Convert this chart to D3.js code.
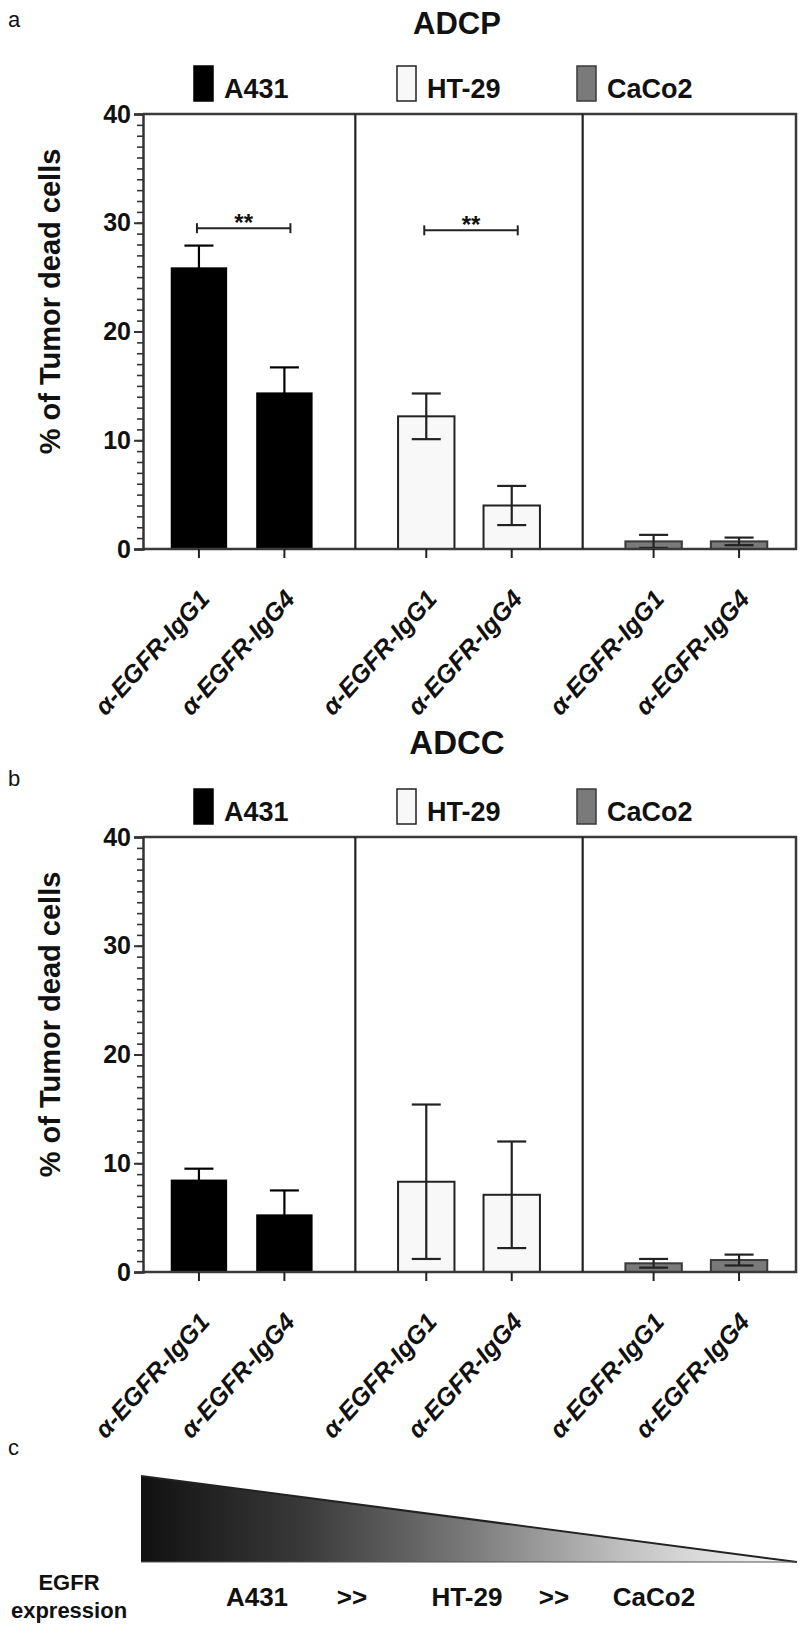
<!DOCTYPE html>
<html>
<head>
<meta charset="utf-8">
<script src="https://cdn.jsdelivr.net/npm/d3@7"></script>
<style>
  html, body { margin: 0; padding: 0; background: #fff; }
  svg { display: block; }
  text { font-family: "Liberation Sans", Arial, sans-serif; fill: #111; }
</style>
</head>
<body>
<svg id="chart" width="800" height="1628"></svg>
<script>
// ---------------- DATA ----------------
const cellLines = ["A431", "HT-29", "CaCo2"];
const antibodies = ["α-EGFR-IgG1", "α-EGFR-IgG4"];
// order: A431 IgG1, A431 IgG4, HT-29 IgG1, HT-29 IgG4, CaCo2 IgG1, CaCo2 IgG4
const adcpMean = [25.9, 14.4, 12.2, 4.0, 0.7, 0.7];
const adcpErr  = [2.0, 2.3, 2.1, 1.8, 0.6, 0.35];
const adccMean = [8.5, 5.3, 8.3, 7.1, 0.8, 1.1];
const adccErr  = [1.0, 2.2, 7.1, 4.9, 0.4, 0.5];
const yMajorTicks = [0, 10, 20, 30, 40];
const yMinorTicks = d3.range(0, 41, 1);
const adcpSignificance = [
  { line: "A431", level: 29.5, label: "**" },
  { line: "HT-29", level: 29.3, label: "**" }
];
const expressionLabels = ["A431", ">>", "HT-29", ">>", "CaCo2"];
const panelTitles = ["ADCP", "ADCC"];
const panelLetters = ["a", "b", "c"];
const yAxisTitle = "% of Tumor dead cells";
const expressionTitle = ["EGFR", "expression"];

// ---------------- STYLE / LAYOUT ----------------
const fills = { "A431": "#000", "HT-29": "#f8f8f8", "CaCo2": "#7a7a7a" };
const strokes = { "A431": "#000", "HT-29": "#222", "CaCo2": "#3a3a3a" };
const legendX = [194, 397, 577];
const expressionX = [257, 352, 467, 554, 654];

const svg = d3.select("#chart");

function rows(mean, err) {
  const out = [];
  cellLines.forEach((c, gi) => antibodies.forEach((a, ai) => {
    const i = gi * 2 + ai;
    out.push({ line: c, ab: a, mean: mean[i], err: err[i] });
  }));
  return out;
}

function drawPanel(opts) {
  const { top, bottom, data, title, titleY, titleSize, letter, letterY, legendTop, sig } = opts;
  const left = 143, right = 796;
  const g = svg.append("g");

  const y = d3.scaleLinear().domain([0, 40]).range([bottom, top]);
  const xG = d3.scaleBand().domain(cellLines).range([128, 810]).padding(0);
  const xI = d3.scaleBand().domain(antibodies).range([0, xG.bandwidth()])
    .paddingInner(0.34).paddingOuter(0.5);
  const cx = d => xG(d.line) + xI(d.ab) + xI.bandwidth() / 2;

  // title & letter
  g.append("text").attr("x", 457).attr("y", titleY).attr("text-anchor", "middle")
    .style("font-size", titleSize + "px").style("font-weight", "bold").text(title);
  g.append("text").attr("x", 8).attr("y", letterY)
    .style("font-size", "22px").text(letter);

  // legend
  const lg = g.append("g");
  cellLines.forEach((c, i) => {
    lg.append("rect").attr("x", legendX[i]).attr("y", legendTop)
      .attr("width", 19).attr("height", 35)
      .attr("fill", fills[c]).attr("stroke", strokes[c]).attr("stroke-width", 1.5);
    lg.append("text").attr("x", legendX[i] + 30).attr("y", legendTop + 32)
      .style("font-size", "27px").style("font-weight", "bold").text(c);
  });

  // bars
  g.selectAll("rect.bar").data(data).join("rect").attr("class", "bar")
    .attr("x", d => xG(d.line) + xI(d.ab))
    .attr("width", xI.bandwidth())
    .attr("y", d => y(d.mean))
    .attr("height", d => y(0) - y(d.mean))
    .attr("fill", d => fills[d.line])
    .attr("stroke", d => strokes[d.line])
    .attr("stroke-width", d => d.line === "A431" ? 0 : 2);

  // error bars
  const eb = g.selectAll("g.eb").data(data).join("g").attr("class", "eb")
    .attr("stroke", d => d.line === "A431" ? "#000" : "#222")
    .attr("stroke-width", 2.2);
  eb.append("line").attr("x1", cx).attr("x2", cx)
    .attr("y1", d => y(Math.max(0, d.mean - d.err))).attr("y2", d => y(d.mean + d.err));
  eb.append("line").attr("x1", d => cx(d) - 14.5).attr("x2", d => cx(d) + 14.5)
    .attr("y1", d => y(d.mean + d.err)).attr("y2", d => y(d.mean + d.err));
  eb.filter(d => d.line !== "A431").append("line")
    .attr("x1", d => cx(d) - 14.5).attr("x2", d => cx(d) + 14.5)
    .attr("y1", d => y(Math.max(0, d.mean - d.err))).attr("y2", d => y(Math.max(0, d.mean - d.err)));

  // frame & group dividers
  g.append("path")
    .attr("d", `M${left},${top}H${right}V${bottom}H${left}`)
    .attr("fill", "none").attr("stroke", "#3a3a3a").attr("stroke-width", 2.5);
  cellLines.slice(1).forEach(c => {
    g.append("line").attr("x1", xG(c)).attr("x2", xG(c))
      .attr("y1", top).attr("y2", bottom)
      .attr("stroke", "#222").attr("stroke-width", 2.2);
  });

  // y axis
  const minor = g.append("g").attr("transform", `translate(${left},0)`)
    .call(d3.axisLeft(y).tickValues(yMinorTicks).tickSize(6).tickFormat(""));
  minor.select(".domain").remove();
  minor.selectAll("line").attr("stroke", "#333").attr("stroke-width", 1.6);
  const major = g.append("g").attr("transform", `translate(${left},0)`)
    .call(d3.axisLeft(y).tickValues(yMajorTicks).tickSize(9).tickPadding(3));
  major.select(".domain").attr("stroke", "#333").attr("stroke-width", 2.5);
  major.selectAll("line").attr("stroke", "#333").attr("stroke-width", 2);
  major.selectAll("text").style("font-size", "25px").style("font-weight", "bold")
    .style("font-family", "'Liberation Sans', Arial, sans-serif").attr("fill", "#111");

  g.append("text")
    .attr("transform", `translate(60,${(top + bottom) / 2 - 30}) rotate(-90)`)
    .attr("text-anchor", "middle").style("font-size", "29px").style("font-weight", "bold")
    .text(yAxisTitle);

  // x ticks & labels
  g.selectAll("line.xt").data(data).join("line").attr("class", "xt")
    .attr("x1", cx).attr("x2", cx).attr("y1", bottom).attr("y2", bottom + 9)
    .attr("stroke", "#222").attr("stroke-width", 2);
  g.selectAll("text.xl").data(data).join("text").attr("class", "xl")
    .attr("transform", d => `translate(${cx(d) + 12},${bottom + 51}) rotate(-48)`)
    .attr("text-anchor", "end").style("font-size", "25px")
    .style("font-weight", "bold").style("font-style", "italic")
    .text(d => d.ab);

  // significance
  (sig || []).forEach(s => {
    const x1 = xG(s.line) + xI(antibodies[0]) + xI.bandwidth() / 2 - 2;
    const x2 = xG(s.line) + xI(antibodies[1]) + xI.bandwidth() / 2 + 6;
    const yy = y(s.level);
    const sg = g.append("g").attr("stroke", "#222").attr("stroke-width", 2);
    sg.append("line").attr("x1", x1).attr("x2", x2).attr("y1", yy).attr("y2", yy);
    sg.append("line").attr("x1", x1).attr("x2", x1).attr("y1", yy - 5).attr("y2", yy + 5);
    sg.append("line").attr("x1", x2).attr("x2", x2).attr("y1", yy - 5).attr("y2", yy + 5);
    g.append("text").attr("x", (x1 + x2) / 2).attr("y", yy + 3).attr("text-anchor", "middle")
      .style("font-size", "24px").style("font-weight", "bold").text(s.label);
  });
}

drawPanel({
  top: 114, bottom: 549, data: rows(adcpMean, adcpErr),
  title: panelTitles[0], titleY: 34, titleSize: 31,
  letter: panelLetters[0], letterY: 27, legendTop: 66, sig: adcpSignificance
});
drawPanel({
  top: 837, bottom: 1272, data: rows(adccMean, adccErr),
  title: panelTitles[1], titleY: 754, titleSize: 33,
  letter: panelLetters[1], letterY: 786, legendTop: 789, sig: []
});

// ---------------- PANEL C ----------------
const cg = svg.append("g");
cg.append("text").attr("x", 8).attr("y", 1455).style("font-size", "22px").text(panelLetters[2]);

const defs = svg.append("defs");
const grad = defs.append("linearGradient").attr("id", "egfrGrad")
  .attr("x1", "0%").attr("x2", "100%").attr("y1", "0%").attr("y2", "0%");
[[0, "#111"], [0.25, "#3a3a3a"], [0.5, "#7a7a7a"], [0.75, "#c4c4c4"], [1, "#fbfbfb"]]
  .forEach(([o, c]) => grad.append("stop").attr("offset", o).attr("stop-color", c));

const xe = d3.scaleLinear().domain([1, 0]).range([141, 797]);   // relative expression
const ye = d3.scaleLinear().domain([0, 1]).range([1562, 1476]);
const ramp = [1, 0];
const area = d3.area().x(d => xe(d)).y0(ye(0)).y1(d => ye(d));
cg.append("path").datum(ramp).attr("d", area).attr("fill", "url(#egfrGrad)");
cg.append("path").datum(ramp)
  .attr("d", d3.line().x(d => xe(d)).y(d => ye(d)))
  .attr("fill", "none").attr("stroke", "#222").attr("stroke-width", 2);
cg.append("line").attr("x1", xe(1)).attr("x2", xe(0)).attr("y1", ye(0)).attr("y2", ye(0))
  .attr("stroke", "#555").attr("stroke-width", 1.2);

cg.append("text").attr("x", 69).attr("y", 1590).attr("text-anchor", "middle")
  .style("font-size", "22px").style("font-weight", "bold").text(expressionTitle[0]);
cg.append("text").attr("x", 69).attr("y", 1618).attr("text-anchor", "middle")
  .style("font-size", "22px").style("font-weight", "bold").text(expressionTitle[1]);
cg.selectAll("text.el").data(expressionLabels).join("text").attr("class", "el")
  .attr("x", (d, i) => expressionX[i]).attr("y", 1606).attr("text-anchor", "middle")
  .style("font-size", "26px").style("font-weight", "bold").text(d => d);
</script>
</body>
</html>
